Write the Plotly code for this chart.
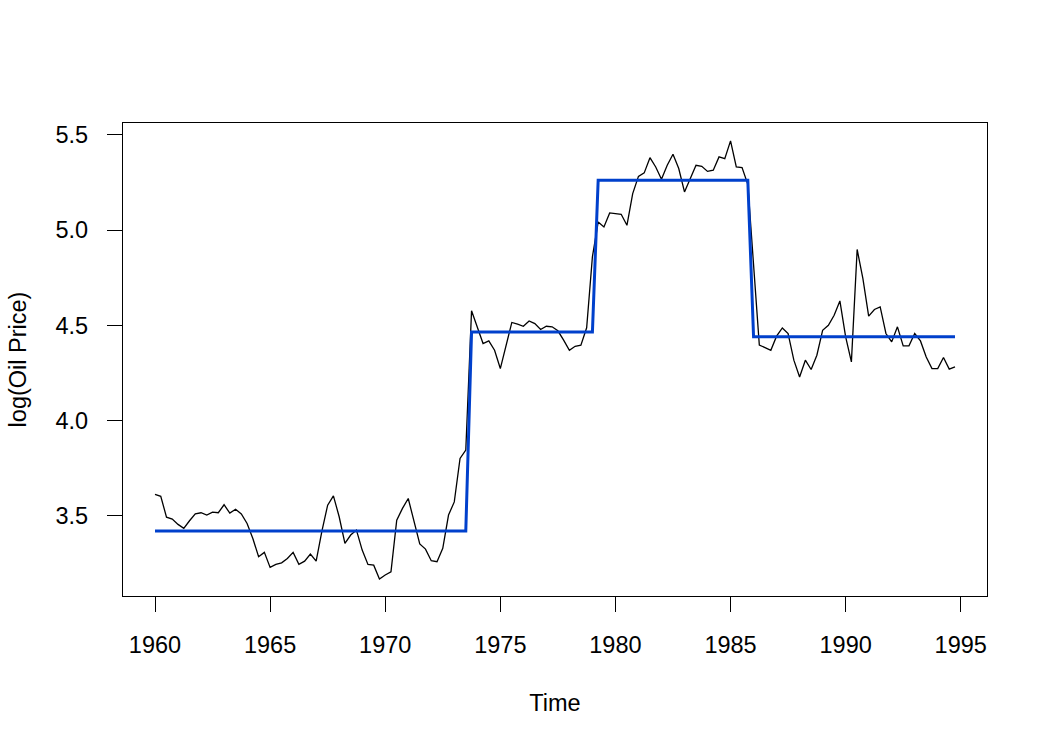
import plotly.graph_objects as go

# Quarterly log oil price, 1960 Q1 .. 1994 Q4
start_year = 1960
periods_per_year = 4
log_price = [
    3.612, 3.602, 3.493, 3.483, 3.455, 3.434, 3.474, 3.510, 3.516, 3.504,
    3.519, 3.516, 3.558, 3.514, 3.534, 3.510, 3.460, 3.381, 3.285, 3.308,
    3.229, 3.245, 3.253, 3.276, 3.308, 3.245, 3.262, 3.299, 3.262, 3.420,
    3.556, 3.605, 3.495, 3.355, 3.399, 3.425, 3.320, 3.245, 3.241, 3.168,
    3.189, 3.206, 3.477, 3.539, 3.591, 3.477, 3.352, 3.325, 3.264, 3.259,
    3.329, 3.504, 3.573, 3.801, 3.845, 4.576, 4.492, 4.404, 4.418, 4.369,
    4.273, 4.387, 4.515, 4.506, 4.495, 4.523, 4.509, 4.478, 4.495, 4.492,
    4.471, 4.422, 4.369, 4.390, 4.396, 4.487, 4.860, 5.042, 5.016, 5.090,
    5.087, 5.083, 5.025, 5.191, 5.282, 5.300, 5.380, 5.331, 5.267, 5.340,
    5.398, 5.323, 5.200, 5.275, 5.340, 5.335, 5.308, 5.314, 5.384, 5.375,
    5.468, 5.331, 5.328, 5.240, 4.800, 4.396, 4.383, 4.369, 4.443, 4.486,
    4.457, 4.317, 4.229, 4.317, 4.268, 4.343, 4.474, 4.500, 4.553, 4.628,
    4.439, 4.308, 4.898, 4.745, 4.548, 4.583, 4.597, 4.457, 4.413, 4.492,
    4.392, 4.392, 4.457, 4.418, 4.334, 4.273, 4.273, 4.331, 4.270, 4.282,
]

# Fitted regime means (step function) and last index of each regime
regime_levels = [3.420, 4.465, 5.262, 4.440]
regime_last_index = [54, 76, 103, 139]

x_ticks = [1960, 1965, 1970, 1975, 1980, 1985, 1990, 1995]
y_ticks = [3.5, 4.0, 4.5, 5.0, 5.5]

time = [start_year + i / periods_per_year for i in range(len(log_price))]
fitted = []
seg = 0
for i in range(len(log_price)):
    while i > regime_last_index[seg]:
        seg += 1
    fitted.append(regime_levels[seg])

fig = go.Figure()
fig.add_trace(go.Scatter(x=time, y=log_price, mode="lines",
                         line=dict(color="black", width=1.3), showlegend=False))
fig.add_trace(go.Scatter(x=time, y=fitted, mode="lines",
                         line=dict(color="#0040CC", width=3), showlegend=False))

font_family = "Liberation Sans, Arial, sans-serif"
fig.update_layout(
    width=1050, height=750,
    margin=dict(l=123, r=63, t=123, b=154),
    paper_bgcolor="white", plot_bgcolor="white",
    font=dict(family=font_family, size=23.5, color="black"),
    showlegend=False,
)
fig.update_xaxes(
    range=[1958.61, 1996.14], tickvals=x_ticks, ticktext=[str(v) for v in x_ticks],
    showgrid=False, zeroline=False, showline=True, mirror=True,
    linecolor="black", linewidth=1.3, ticks="outside", ticklen=15,
    tickwidth=1.3, tickcolor="black", ticklabelstandoff=13,
    title=dict(text="Time", standoff=37, font=dict(size=23.5)),
)
fig.update_yaxes(
    range=[3.079, 5.562], tickvals=y_ticks, ticktext=[f"{v:.1f}" for v in y_ticks],
    showgrid=False, zeroline=False, showline=True, mirror=True,
    linecolor="black", linewidth=1.3, ticks="outside", ticklen=15,
    tickwidth=1.3, tickcolor="black", ticklabelstandoff=14,
    title=dict(text="log(Oil Price)", standoff=22, font=dict(size=23.5)),
)

fig.write_html("out.html")
